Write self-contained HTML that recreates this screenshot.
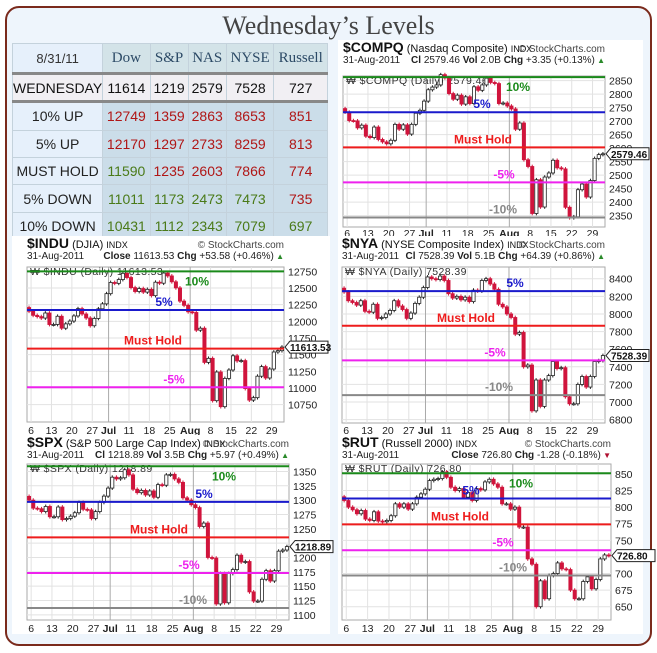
<!DOCTYPE html>
<html><head><meta charset="utf-8">
<style>
html,body{margin:0;padding:0;}
body{width:657px;height:653px;position:relative;background:#fff;overflow:hidden;font-family:"Liberation Sans",sans-serif;}
#frame{position:absolute;left:5px;top:6px;width:643px;height:636px;border:2px solid #7a2a1c;border-radius:14px;background:#eef5fc;}
#title{position:absolute;left:0;width:657px;top:11px;text-align:center;font-family:"Liberation Serif",serif;font-size:26px;color:#444;}
table{position:absolute;left:12px;top:43px;border-collapse:collapse;width:316px;height:197px;}
td{border:1px solid #c4d2dc;text-align:center;font-size:14px;padding:0;}
td.c0{background:#e6f0fb;color:#222;width:76px;}
td.v{background:#cbdde9;}
tr.hd td{background:#d3e3e8;font-family:"Liberation Serif",serif;font-size:15px;color:#2c4a66;height:28px;}
tr.hd td.c0{background:#e6f0fb;font-family:"Liberation Sans",sans-serif;font-size:13px;color:#333;}
tr.wd td{background:#f1eff3;color:#111;border-top:3px solid #888;border-bottom:3px solid #888;height:25px;}
.r{color:#b01616;} .g{color:#4a7a18;}
svg{position:absolute;left:0;top:0;}
</style></head>
<body>
<div id="frame"></div>
<div id="title">Wednesday’s Levels</div>
<table>
<tr class="hd"><td class="c0">8/31/11</td><td>Dow</td><td>S&amp;P</td><td>NAS</td><td>NYSE</td><td>Russell</td></tr>
<tr class="wd"><td class="c0" style="background:#f1eff3">WEDNESDAY</td><td>11614</td><td>1219</td><td>2579</td><td>7528</td><td>727</td></tr>
<tr><td class="c0">10% UP</td><td class="v r">12749</td><td class="v r">1359</td><td class="v r">2863</td><td class="v r">8653</td><td class="v r">851</td></tr>
<tr><td class="c0">5% UP</td><td class="v r">12170</td><td class="v r">1297</td><td class="v r">2733</td><td class="v r">8259</td><td class="v r">813</td></tr>
<tr><td class="c0">MUST HOLD</td><td class="v g">11590</td><td class="v r">1235</td><td class="v r">2603</td><td class="v r">7866</td><td class="v r">774</td></tr>
<tr><td class="c0">5% DOWN</td><td class="v g">11011</td><td class="v g">1173</td><td class="v g">2473</td><td class="v g">7473</td><td class="v r">735</td></tr>
<tr><td class="c0">10% DOWN</td><td class="v g">10431</td><td class="v g">1112</td><td class="v g">2343</td><td class="v g">7079</td><td class="v g">697</td></tr>
</table>
<svg id="charts" width="657" height="653"></svg>
<script>
const dateTickIdx=[1,6,11,16,20,25,30,35,40,45,50,55,60];
const dateTickLabels=["6","13","20","27","Jul","11","18","25","Aug","8","15","22","29"];
const levelNames=["10%","5%","Must Hold","-5%","-10%"];
const levelColors=["#1a8a1a","#1a1acc","#ee1c1c","#ee22ee","#888888"];

const compqClose=[2733,2702,2701,2675,2685,2644,2639,2678,2632,2623,2616,2629,2688,2670,2686,2652,2688,2729,2740,2774,
2816,2826,2834,2872,2860,2802,2781,2796,2763,2790,2765,2827,2814,2834,2859,2843,2839,2765,2767,2756,
2745,2670,2693,2557,2532,2358,2483,2382,2493,2508,2555,2527,2523,2381,2342,2346,2446,2467,2419,2480,2562,2576,2579];
const compqLevels=[2863,2733,2603,2473,2343];
const compqTicks=[2350,2400,2450,2500,2550,2600,2650,2700,2750,2800,2850];

const induClose=[12151,12090,12071,12049,12125,11952,11953,12076,11897,11962,12004,12081,12190,12110,12050,11934,12043,12188,12262,12415,
12583,12570,12627,12720,12657,12506,12447,12492,12438,12480,12385,12587,12572,12724,12681,12593,12502,12303,12240,12143,
12133,11867,11897,11384,11445,10810,11240,10720,11144,11270,11483,11406,11411,10991,10818,10855,11177,11321,11150,11285,11540,11560,11614];
const induLevels=[12749,12170,11590,11011,10431];
const induTicks=[10750,11000,11250,11500,11750,12000,12250,12500,12750];

const nyaClose=[8250,8150,8130,8100,8150,8030,8020,8110,7950,7960,8000,8040,8150,8090,8050,7950,8010,8120,8190,8300,
8420,8400,8390,8430,8380,8230,8180,8200,8160,8190,8140,8270,8260,8380,8400,8340,8280,8110,8080,8000,
7960,7770,7790,7400,7420,6900,7250,6950,7250,7300,7460,7380,7390,7060,6980,6980,7200,7290,7170,7290,7460,7470,7528];
const nyaLevels=[8653,8259,7866,7473,7079];
const nyaTicks=[6800,7000,7200,7400,7600,7800,8000,8200,8400];

const spxClose=[1300,1286,1285,1280,1289,1271,1271,1288,1266,1268,1272,1278,1296,1284,1283,1268,1280,1296,1307,1321,
1340,1337,1339,1353,1344,1319,1313,1317,1309,1316,1305,1327,1326,1344,1345,1337,1331,1304,1300,1292,
1287,1254,1260,1200,1199,1119,1172,1121,1172,1179,1204,1192,1193,1140,1124,1124,1162,1177,1159,1177,1211,1213,1219];
const spxLevels=[1359,1297,1235,1173,1112];
const spxTicks=[1100,1125,1150,1175,1200,1225,1250,1275,1300,1325,1350];

const rutClose=[810,800,796,790,795,782,780,793,779,778,780,787,805,800,805,797,805,815,820,827,
840,842,843,853,845,830,825,828,815,822,810,828,826,838,842,835,830,805,805,797,
800,770,770,722,714,650,689,662,697,700,716,707,706,675,662,662,688,695,677,691,722,728,727];
const rutLevels=[851,813,774,735,697];
const rutTicks=[650,675,700,725,750,775,800,825,850];

const charts=[
 {id:"compq",sym:"$COMPQ",desc:"(Nasdaq Composite)",info:[["Cl ","2579.46"],["  Vol ","2.0B"],["  Chg ","+3.35 (+0.13%)"]],up:true,last:"2579.46",
  close:compqClose,levels:compqLevels,ticks:compqTicks,px:[343,605],py:[76,227],vr:[2867,2308],hy:52,dy:233,lx:[518,482,483,504,503],bg:[338,643]},
 {id:"indu",sym:"$INDU",desc:"(DJIA)",info:[["Close ","11613.53"],["  Chg ","+53.58 (+0.46%)"]],up:true,last:"11613.53",
  close:induClose,levels:induLevels,ticks:induTicks,px:[27,284],py:[267,422],vr:[12815,10490],hy:248,dy:430,lx:[197,164,153,174,180],bg:[12,330]},
 {id:"nya",sym:"$NYA",desc:"(NYSE Composite Index)",info:[["Cl ","7528.39"],["  Vol ","5.1B"],["  Chg ","+64.39 (+0.86%)"]],up:true,last:"7528.39",
  close:nyaClose,levels:nyaLevels,ticks:nyaTicks,px:[342,605],py:[267,423],vr:[8533,6762],hy:248,dy:430,lx:[515,515,466,495,499],bg:[338,643]},
 {id:"spx",sym:"$SPX",desc:"(S&P 500 Large Cap Index)",info:[["Cl ","1218.89"],["  Vol ","3.5B"],["  Chg ","+5.97 (+0.49%)"]],up:true,last:"1218.89",
  close:spxClose,levels:spxLevels,ticks:spxTicks,px:[27,289],py:[464,620],vr:[1363,1091],hy:447,dy:628,lx:[224,204,159,189,193],bg:[12,330]},
 {id:"rut",sym:"$RUT",desc:"(Russell 2000)",info:[["Close ","726.80"],["  Chg ","-1.28 (-0.18%)"]],up:false,last:"726.80",
  close:rutClose,levels:rutLevels,ticks:rutTicks,px:[342,611],py:[464,620],vr:[865,630],hy:447,dy:628,lx:[521,471,460,503,513],bg:[338,643]}
];

const NS="http://www.w3.org/2000/svg";
const svg=document.getElementById("charts");
function mk(tag,attrs,parent,text){const e=document.createElementNS(NS,tag);for(const k in attrs)e.setAttribute(k,attrs[k]);if(text!==undefined)e.textContent=text;(parent||svg).appendChild(e);return e;}

charts.forEach(c=>{
  const g=mk("g",{});
  
  
  const n=c.close.length, step=(c.px[1]-c.px[0])/n;
  const X=i=>c.px[0]+(i+0.5)*step;
  const Xg=i=>c.px[0]+i*step;
  const Y=v=>c.py[0]+(c.vr[0]-v)/(c.vr[0]-c.vr[1])*(c.py[1]-c.py[0]);
  const bg=mk("rect",{x:c.bg[0],y:c.hy-12,width:c.bg[1]-c.bg[0],height:c.dy-c.hy+18,fill:"#fff"},g);
  
  
  const t=mk("text",{x:c.px[0],y:c.hy,"font-size":"11","fill":"#111"},g);
  mk("tspan",{"font-weight":"bold","font-size":"14"},t,c.sym);
  mk("tspan",{},t," "+c.desc+" ");
  mk("tspan",{"font-size":"9"},t,"INDX");
  
  
  mk("text",{x:c.px[1],y:c.hy,"font-size":"10","fill":"#444","text-anchor":"end"},g,"© StockCharts.com");
  mk("text",{x:c.px[0],y:c.hy+11,"font-size":"10","fill":"#222"},g,"31-Aug-2011");
  const it=mk("text",{x:c.px[1],y:c.hy+11,"font-size":"10","fill":"#222","text-anchor":"end"},g);
  c.info.forEach(p=>{mk("tspan",{"font-weight":"bold"},it,p[0]);mk("tspan",{},it,p[1]);});
  mk("tspan",{fill:c.up?"#2a8a2a":"#b01030","font-size":"8"},it,c.up?" ▲":" ▼");
  mk("rect",{x:c.px[0],y:c.py[0],width:c.px[1]-c.px[0],height:c.py[1]-c.py[0],fill:"#fff",stroke:"#aaa","stroke-width":1},g);
  c.ticks.forEach(v=>{
    const y=Y(v);
    mk("line",{x1:c.px[0],x2:c.px[1],y1:y,y2:y,stroke:"#e2e2e2","stroke-width":1},g);
    const tl=mk("text",{x:c.px[1]+4,y:y+4,"font-size":"10.5","fill":"#222"},g,String(v));
    
    
  });
  dateTickIdx.forEach((i,k)=>{
    const x=Xg(i), big=(dateTickLabels[k]==="Jul"||dateTickLabels[k]==="Aug");
    mk("line",{x1:x,x2:x,y1:c.py[0],y2:c.py[1],stroke:big?"#aaa":"#e2e2e2","stroke-width":1},g);
    const dl=mk("text",{x:x,y:c.dy+4,"font-size":"10.5","fill":"#222","text-anchor":"middle","font-weight":big?"bold":"normal"},g,dateTickLabels[k]);
    
    
  });
  mk("text",{x:c.px[0]+3,y:c.py[0]+8,"font-size":"10.5","fill":"#333","letter-spacing":"0.4"},g,"₩ "+c.sym+" (Daily) "+c.last);
  const k=(c.vr[0]-c.vr[1])*0.012;
  c.close.forEach((cl,i)=>{
    const op=i>0?c.close[i-1]:cl+k*2;
    const hi=Math.max(op,cl)+k, lo=Math.min(op,cl)-k;
    const x=X(i), down=cl<op;
    mk("line",{x1:x,x2:x,y1:Y(hi),y2:Y(lo),stroke:down?"#d0143c":"#222","stroke-width":1},g);
    const top=Y(Math.max(op,cl)), h=Math.max(1,Y(Math.min(op,cl))-top);
    const r=mk("rect",{x:x-1.6,y:top,width:3.2,height:h,fill:down?"#d0143c":"#fff",stroke:down?"#d0143c":"#222","stroke-width":0.8},g);
    
    
  });
  c.levels.forEach((v,j)=>{
    const y=Y(v);
    if(y<c.py[0]-1||y>c.py[1]+1)return;
    const ln=mk("line",{x1:c.px[0],x2:c.px[1],y1:y,y2:y,stroke:levelColors[j],"stroke-width":2},g);
    
    
    const ty=j===0?y+14:y-4;
    const lt=mk("text",{x:c.lx[j],y:ty,"font-size":"12","font-weight":"bold","fill":levelColors[j],"text-anchor":"middle"},g,levelNames[j]);
    
    
  });
  const ly=Y(c.close[n-1]);
  mk("path",{d:`M${c.px[1]+1},${ly} l5,-6 h38 v12 h-38 z`,fill:"#fff",stroke:"#222","stroke-width":1},g);
  const lp=mk("text",{x:c.px[1]+6,y:ly+4,"font-size":"10","font-weight":"bold","fill":"#111"},g,c.last);
  
  
});
</script>
</body></html>
